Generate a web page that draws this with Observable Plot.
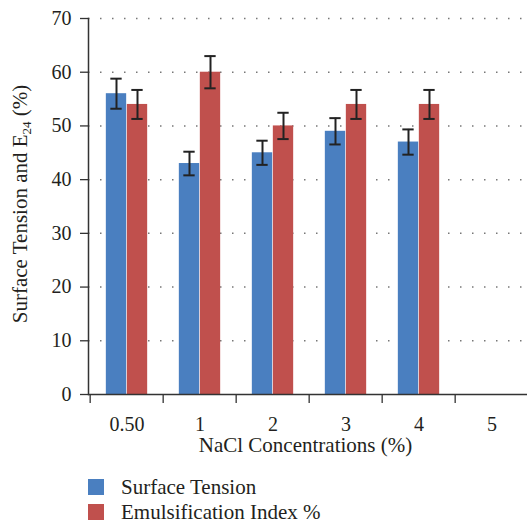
<!DOCTYPE html>
<html><head><meta charset="utf-8">
<script src="https://cdn.jsdelivr.net/npm/d3@7"></script>
<script src="https://cdn.jsdelivr.net/npm/@observablehq/plot@0.6"></script>
<style>
body{margin:0;background:#fff;font-family:"Liberation Serif","Times New Roman",serif;color:#231f20}
#legend{margin-left:88px;margin-top:4px}
.row{display:flex;align-items:center;height:25px;font-size:21px;line-height:20px}
.sw{width:16px;height:16px;margin-right:17px;flex:none}
</style></head><body>
<div id="chart"></div>
<div id="legend"></div>
<script>
const categories = ["0.50", "1", "2", "3", "4", "5"];
const seriesNames = ["Surface Tension", "Emulsification Index %"];
const surfaceTension = [56, 43, 45, 49, 47];
const surfaceTensionErr = [2.8, 2.2, 2.25, 2.45, 2.35];
const emulsification = [54, 60, 50, 54, 54];
const emulsificationErr = [2.7, 3.0, 2.45, 2.7, 2.7];
const yTicks = [0, 10, 20, 30, 40, 50, 60, 70];
const colors = ["#4a7fc0", "#c0504d"];
const FONT = '"Liberation Serif","Times New Roman",serif';

const rows = surfaceTension.map((v, i) => ({
  c: categories[i], st: v, stErr: surfaceTensionErr[i],
  ei: emulsification[i], eiErr: emulsificationErr[i]
}));

const xRange = [88, 530];
const bw = (xRange[1] - xRange[0]) / categories.length;
const barW = 21;
const half = barW / 2;
const barInset = (bw - barW) / 2;
const capInset = (bw - 12) / 2;
const ink = "#222";

function errMarks(val, err, dx) {
  return [
    Plot.ruleX(rows, {x: "c", y1: d => d[val] - d[err], y2: d => d[val] + d[err], dx, stroke: ink, strokeWidth: 2}),
    Plot.tickY(rows, {x: "c", y: d => d[val] + d[err], dx, insetLeft: capInset, insetRight: capInset, stroke: ink, strokeWidth: 2}),
    Plot.tickY(rows, {x: "c", y: d => d[val] - d[err], dx, insetLeft: capInset, insetRight: capInset, stroke: ink, strokeWidth: 2})
  ];
}

const plot = Plot.plot({
  width: 527, height: 470,
  marginLeft: 88, marginRight: 5, marginTop: 18, marginBottom: 76,
  style: {fontFamily: FONT, fontSize: "20px", color: "#231f20", background: "white", overflow: "visible"},
  x: {domain: categories, range: xRange, padding: 0},
  y: {domain: [0, 70]},
  marks: [
    Plot.ruleY(yTicks.filter(d => d > 0), {stroke: "#777", strokeWidth: 1.5, strokeDasharray: "1.5 10.5"}),
    Plot.barY(rows, {x: "c", y: "st", fill: colors[0], insetLeft: barInset, insetRight: barInset, dx: -half}),
    Plot.barY(rows, {x: "c", y: "ei", fill: colors[1], insetLeft: barInset, insetRight: barInset, dx: half}),
    ...errMarks("st", "stErr", -half),
    ...errMarks("ei", "eiErr", half),
    Plot.axisY({ticks: yTicks, tickSize: 8, tickPadding: 9, label: null, stroke: "#333", strokeWidth: 1.3}),
    Plot.axisX({ticks: categories, tickSize: 0, tickPadding: 22, label: null}),
    Plot.axisX({ticks: categories, tickSize: 9, text: null, dx: -bw / 2, label: null, stroke: "#333", strokeWidth: 1.3}),
    Plot.ruleY([0], {stroke: "#333", strokeWidth: 1.5, insetRight: -5}),
    Plot.frame({anchor: "left", stroke: "#333", strokeWidth: 1.5}),
    Plot.text(["NaCl Concentrations (%)"], {frameAnchor: "bottom", dy: 57, fontSize: 21, fill: "#231f20"})
  ]
});
document.getElementById("chart").append(plot);

// y-axis title with subscript
const svg = d3.select(plot);
const t = svg.append("text")
  .attr("transform", "translate(27,204) rotate(-90)")
  .attr("text-anchor", "middle")
  .attr("font-family", FONT)
  .attr("font-size", 21)
  .attr("fill", "#231f20");
t.append("tspan").text("Surface Tension and E");
t.append("tspan").attr("font-size", 13).attr("dy", 4).text("24");
t.append("tspan").attr("dy", -4).text(" (%)");

// legend
const legend = d3.select("#legend");
seriesNames.forEach((name, i) => {
  const r = legend.append("div").attr("class", "row");
  r.append("div").attr("class", "sw").style("background", colors[i]);
  r.append("span").text(name);
});
</script>
</body></html>
